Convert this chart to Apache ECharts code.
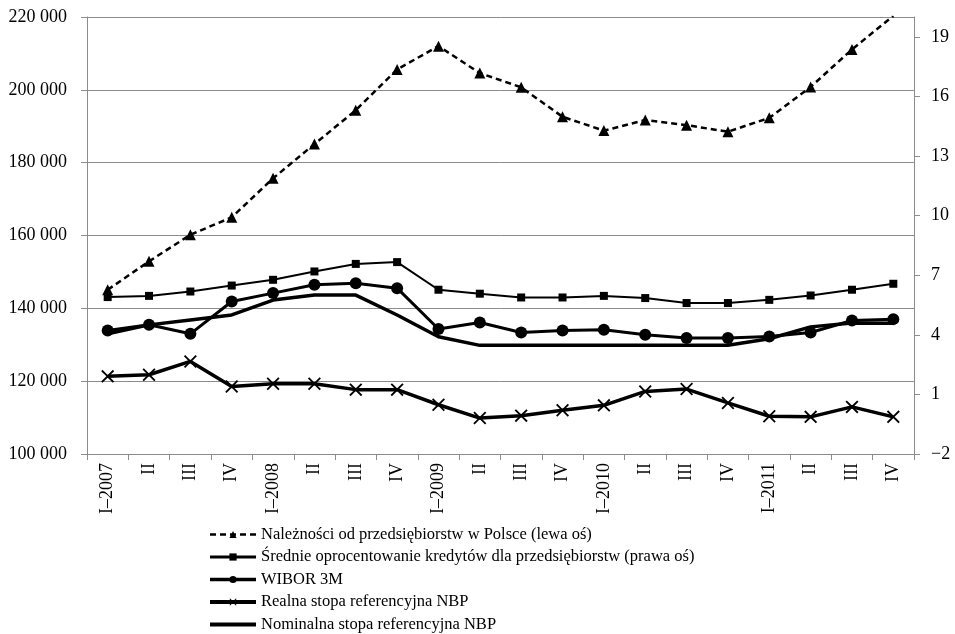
<!DOCTYPE html>
<html>
<head>
<meta charset="utf-8">
<script src="https://cdn.jsdelivr.net/npm/echarts@6/dist/echarts.min.js"></script>
<style>
  html, body { margin: 0; padding: 0; background: #fff; }
  #chart { width: 955px; height: 634px; }
</style>
</head>
<body>
<div id="chart"></div>
<script>
// Quarterly categories 2007–2011
const categories = ['I–2007','II','III','IV','I–2008','II','III','IV','I–2009','II','III','IV','I–2010','II','III','IV','I–2011','II','III','IV'];

// Należności od przedsiębiorstw (mln zł, lewa oś)
const naleznosci = [145100,152900,160200,165000,175700,185100,194400,205600,212000,204600,200700,192600,188800,191700,190300,188500,192300,200800,211100,220300];

// Rates in % (prawa oś)
const oprocentowanie = [5.90,5.96,6.18,6.48,6.77,7.19,7.57,7.66,6.27,6.07,5.88,5.88,5.96,5.85,5.60,5.60,5.76,5.98,6.27,6.57];
const wibor3m = [4.22,4.51,4.05,5.68,6.10,6.52,6.60,6.35,4.29,4.62,4.12,4.22,4.25,4.00,3.84,3.84,3.92,4.12,4.72,4.79];
const realna = [1.91,1.99,2.66,1.40,1.54,1.54,1.24,1.24,0.48,-0.19,-0.07,0.20,0.45,1.15,1.27,0.57,-0.10,-0.13,0.37,-0.13];
const nominalna = [4.05,4.50,4.75,5.00,5.75,6.00,6.00,5.00,3.90,3.47,3.47,3.47,3.47,3.47,3.47,3.47,3.80,4.40,4.60,4.58];

const seriesNames = [
  'Należności od przedsiębiorstw w Polsce (lewa oś)',
  'Średnie oprocentowanie kredytów dla przedsiębiorstw (prawa oś)',
  'WIBOR 3M',
  'Realna stopa referencyjna NBP',
  'Nominalna stopa referencyjna NBP'
];

const leftTicks = { min: 100000, max: 220000, step: 20000 };
const rightTicks = { min: -2, max: 20, step: 3 };
const rightLabels = [-2, 1, 4, 7, 10, 13, 16, 19];

const FONT = "'Liberation Serif', 'Times New Roman', serif";
const GRAY = '#8c8c8c';
const X_MARK = 'path://M0,1 L1,0 L5,4 L9,0 L10,1 L6,5 L10,9 L9,10 L5,6 L1,10 L0,9 L4,5 Z';

const chart = echarts.init(document.getElementById('chart'), null, { renderer: 'canvas' });

function lineSeries(name, data, yAxisIndex, symbol, symbolSize, width, type) {
  return {
    name, type: 'line', data, yAxisIndex,
    symbol, symbolSize,
    showSymbol: symbol !== 'none',
    clip: true,
    animation: false,
    itemStyle: { color: '#000' },
    lineStyle: { color: '#000', width, type: type || 'solid' },
    emphasis: { disabled: true }
  };
}

chart.setOption({
  backgroundColor: '#fff',
  animation: false,
  textStyle: { fontFamily: FONT, color: '#000' },
  grid: { left: 87, right: 41, top: 17, bottom: 180, containLabel: false },
  legend: {
    orient: 'vertical',
    left: 208,
    top: 526,
    height: 140,
    itemWidth: 46,
    itemHeight: 9,
    itemGap: 5.5,
    padding: 0,
    textStyle: { fontFamily: FONT, fontSize: 16.5, color: '#000', lineHeight: 17 },
    data: [
      { name: seriesNames[0], lineStyle: { width: 2.5 } },
      { name: seriesNames[1], lineStyle: { width: 3 } },
      { name: seriesNames[2], lineStyle: { width: 3.5 } },
      { name: seriesNames[3], lineStyle: { width: 4 } },
      { name: seriesNames[4], lineStyle: { width: 4 }, itemStyle: { opacity: 0 } }
    ]
  },
  xAxis: {
    type: 'category',
    data: categories,
    boundaryGap: true,
    axisLine: { onZero: false, lineStyle: { color: GRAY, width: 1 } },
    axisTick: { show: true, inside: false, length: 6, lineStyle: { color: GRAY } },
    axisLabel: { interval: 0, rotate: 90, margin: 9, fontFamily: FONT, fontSize: 18, color: '#000' },
    splitLine: { show: false }
  },
  yAxis: [
    {
      type: 'value',
      position: 'left',
      min: leftTicks.min, max: leftTicks.max, interval: leftTicks.step,
      axisLine: { show: true, lineStyle: { color: GRAY } },
      axisTick: { show: true, inside: false, length: 6, lineStyle: { color: GRAY } },
      axisLabel: {
        margin: 20, fontFamily: FONT, fontSize: 18, color: '#000',
        formatter: v => String(v).replace(/\B(?=(\d{3})+(?!\d))/g, ' ')
      },
      splitLine: { show: true, lineStyle: { color: GRAY, width: 1 } }
    },
    {
      type: 'value',
      position: 'right',
      min: rightTicks.min, max: rightTicks.max, interval: rightTicks.step,
      axisLine: { show: true, onZero: false, lineStyle: { color: GRAY } },
      axisTick: { show: true, inside: false, length: 6, lineStyle: { color: GRAY },
        customValues: rightLabels },
      axisLabel: {
        margin: 17, fontFamily: FONT, fontSize: 18, color: '#000',
        customValues: rightLabels,
        formatter: v => (v === 20 ? '' : String(v).replace('-', '−'))
      },
      splitLine: { show: false }
    }
  ],
  series: [
    lineSeries(seriesNames[0], naleznosci, 0, 'triangle', 11, 2.5, [6, 4]),
    lineSeries(seriesNames[1], oprocentowanie, 1, 'rect', 8, 2),
    lineSeries(seriesNames[2], wibor3m, 1, 'circle', 12, 3),
    lineSeries(seriesNames[3], realna, 1, X_MARK, 13, 3.5),
    lineSeries(seriesNames[4], nominalna, 1, 'none', 0, 3.5)
  ]
});
</script>
</body>
</html>
